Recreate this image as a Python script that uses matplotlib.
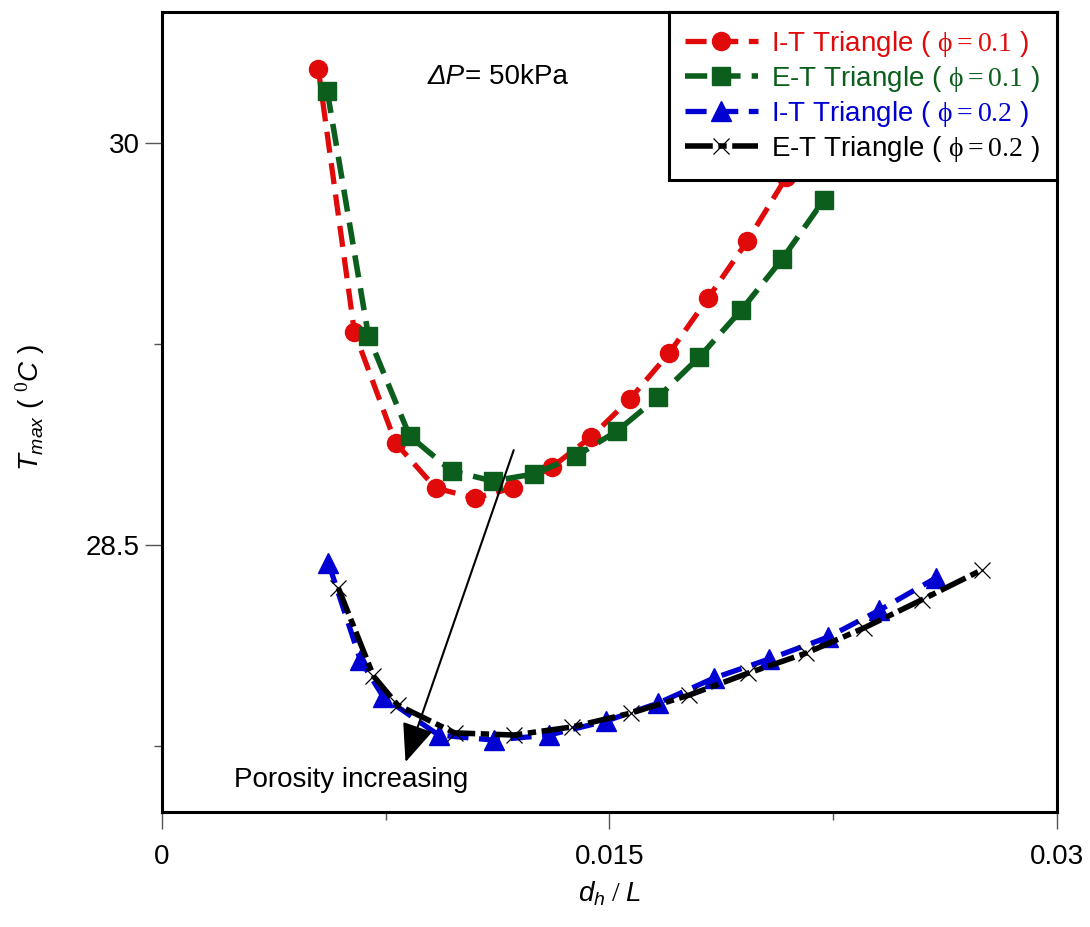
import numpy as np
import matplotlib.pyplot as plt

plt.rcParams['font.family'] = ['Liberation Sans', 'DejaVu Sans']
plt.rcParams['mathtext.fontset'] = 'custom'
plt.rcParams['mathtext.rm'] = 'Liberation Serif'
plt.rcParams['mathtext.it'] = 'Liberation Sans:italic'
plt.rcParams['mathtext.sf'] = 'Liberation Sans'

# I-T triangle, porosity 0.1
x_it1 = [0.00524, 0.00645, 0.00783, 0.00917, 0.01048, 0.01176, 0.01307,
         0.01438, 0.01569, 0.01700, 0.01831, 0.01962, 0.02093]
t_it1 = [30.276, 29.295, 28.881, 28.713, 28.675, 28.713, 28.791,
         28.903, 29.045, 29.216, 29.422, 29.634, 29.873]

# E-T triangle, porosity 0.1
x_et1 = [0.00554, 0.00692, 0.00830, 0.00971, 0.01109, 0.01247, 0.01388,
         0.01525, 0.01663, 0.01801, 0.01942, 0.02079, 0.02218]
t_et1 = [30.194, 29.280, 28.907, 28.776, 28.739, 28.765, 28.832,
         28.925, 29.052, 29.201, 29.377, 29.567, 29.787]

# I-T triangle, porosity 0.2
x_it2 = [0.00558, 0.00665, 0.00742, 0.00927, 0.01112, 0.01297, 0.01488,
         0.01663, 0.01851, 0.02036, 0.02234, 0.02405, 0.02594]
t_it2 = [28.433, 28.071, 27.933, 27.791, 27.772, 27.791, 27.843,
         27.910, 28.004, 28.075, 28.157, 28.257, 28.377]

# E-T triangle, porosity 0.2
x_et2 = [0.00591, 0.00709, 0.00790, 0.00981, 0.01179, 0.01374, 0.01572,
         0.01767, 0.01965, 0.02160, 0.02352, 0.02546, 0.02748]
t_et2 = [28.340, 28.011, 27.903, 27.799, 27.791, 27.821, 27.873,
         27.940, 28.022, 28.097, 28.190, 28.295, 28.407]

labels = [r'I-T Triangle ( $\mathrm{\phi = 0.1}$ )',
          r'E-T Triangle ( $\mathrm{\phi = 0.1}$ )',
          r'I-T Triangle ( $\mathrm{\phi = 0.2}$ )',
          r'E-T Triangle ( $\mathrm{\phi = 0.2}$ )']

red = '#e00a0a'
green = '#0b5e1c'
blue = '#0000d2'

fig = plt.figure(figsize=(10.9, 9.27), dpi=100)
ax = fig.add_axes([0.1486, 0.1241, 0.8211, 0.863])

ax.plot(x_it1, t_it1, color=red, lw=3.8, ls=(0, (4, 2)), marker='o', ms=13,
        label=labels[0])
ax.plot(x_et1, t_et1, color=green, lw=4, ls=(0, (4, 2)), marker='s', ms=13,
        label=labels[1])
ax.plot(x_it2, t_it2, color=blue, lw=3.8, ls=(0, (4, 2)), marker='^', ms=14,
        label=labels[2])
ax.plot(x_et2, t_et2, color='k', lw=4, ls=(0, (5, 1, 1.5, 1)), marker='x', ms=12,
        mew=0.9, label=labels[3])

ax.set_xlim(0, 0.03)
ax.set_ylim(27.504, 30.489)
ax.set_xticks([0, 0.015, 0.03])
ax.set_xticklabels(['0', '0.015', '0.03'])
ax.set_xticks([0.0075, 0.0225], minor=True)
ax.set_yticks([28.5, 30])
ax.set_yticklabels(['28.5', '30'])
ax.set_yticks([27.75, 29.25], minor=True)
ax.tick_params(which='major', direction='out', length=12, width=1,
               color='#555555', labelsize=20)
ax.tick_params(which='minor', direction='out', length=6, width=1,
               color='#555555')
ax.tick_params(axis='x', which='major', pad=11)
ax.tick_params(axis='y', which='major', pad=4)
for s in ax.spines.values():
    s.set_linewidth(2.2)

ax.set_xlabel(r'$d_h\;/\;L$', fontsize=20)
ax.set_ylabel(r'$T_{max}$ ( $^{\mathit{0}}C$ )', fontsize=20)
ax.xaxis.set_label_coords(0.5, -0.085)
ax.yaxis.set_label_coords(-0.128, 0.506)

dp = ax.text(0.0089, 30.246, '\u0394P', fontsize=20, fontstyle='italic',
             va='center')
ax.annotate('= 50kPa', xy=(1, 0), xycoords=dp, va='bottom', ha='left',
            fontsize=20)
ax.annotate('', xy=(0.008163, 27.690), xytext=(0.01179, 28.854),
            arrowprops=dict(arrowstyle='-|>,head_length=0.8,head_width=0.33',
                            color='k', lw=1.5, mutation_scale=30,
                            shrinkA=0, shrinkB=0))
ax.text(0.00242, 27.623, 'Porosity increasing', fontsize=20, va='center')

leg = ax.legend(loc='upper right', borderaxespad=0, fontsize=20,
                handlelength=2.6, handletextpad=0.5, labelspacing=0.18,
                borderpad=0.6, fancybox=False, edgecolor='k', framealpha=1)
leg.get_frame().set_linewidth(2.2)
for txt, line in zip(leg.get_texts(), leg.get_lines()):
    txt.set_color(line.get_color())

fig.savefig('out.png', dpi=100)
